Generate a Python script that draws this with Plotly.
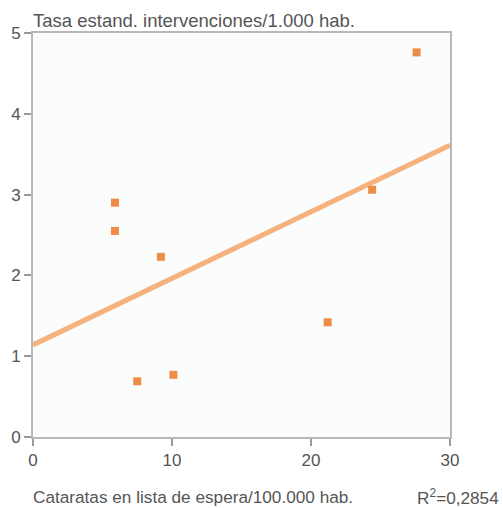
import plotly.graph_objects as go

x_vals = [27.6, 5.9, 5.9, 9.2, 7.5, 10.1, 24.4, 21.2]
y_vals = [4.76, 2.90, 2.55, 2.23, 0.69, 0.77, 3.06, 1.42]
line_x = [0, 30]
line_y = [1.14, 3.61]
x_ticks = [0, 10, 20, 30]
y_ticks = [0, 1, 2, 3, 4, 5]

FONT = "Liberation Sans, Arial, sans-serif"
GRAY = "#555555"

fig = go.Figure()
fig.add_trace(go.Scatter(x=line_x, y=line_y, mode="lines",
                         line=dict(color="#f6b27e", width=5), hoverinfo="skip"))
fig.add_trace(go.Scatter(x=x_vals, y=y_vals, mode="markers",
                         marker=dict(symbol="square", size=8, color="#ef8d48")))

axis_common = dict(showgrid=False, zeroline=False, showline=True, mirror=True,
                   linecolor="#b8b8b8", linewidth=2, ticks="outside",
                   tickcolor="#999999", ticklen=7, tickwidth=1.5,
                   tickfont=dict(family=FONT, size=17, color=GRAY))

fig.update_layout(
    width=503, height=508,
    margin=dict(l=33, r=53, t=33, b=71),
    paper_bgcolor="white", plot_bgcolor="#fbfcfc",
    showlegend=False,
    xaxis=dict(range=[0, 30], tickvals=x_ticks, **axis_common),
    yaxis=dict(range=[0, 5], tickvals=y_ticks, **axis_common),
    annotations=[
        dict(text="Tasa estand. intervenciones/1.000 hab.", xref="paper", yref="paper",
             x=0, y=1, xanchor="left", yanchor="middle", xshift=-2, yshift=13, showarrow=False,
             font=dict(family=FONT, size=18.5, color=GRAY)),
        dict(text="Cataratas en lista de espera/100.000 hab.", xref="paper", yref="paper",
             x=0, y=0, xanchor="left", yanchor="middle", xshift=-2, yshift=-60, showarrow=False,
             font=dict(family=FONT, size=17.2, color=GRAY)),
        dict(text="R<sup>2</sup>=0,2854", xref="paper", yref="paper",
             x=1, y=0, xanchor="right", yanchor="middle", xshift=51, yshift=-60, showarrow=False,
             font=dict(family=FONT, size=17.2, color=GRAY)),
    ],
)
fig.write_html("out.html", config={"displayModeBar": False},
               post_script="document.body.style.margin='0';document.body.style.overflow='hidden';")
